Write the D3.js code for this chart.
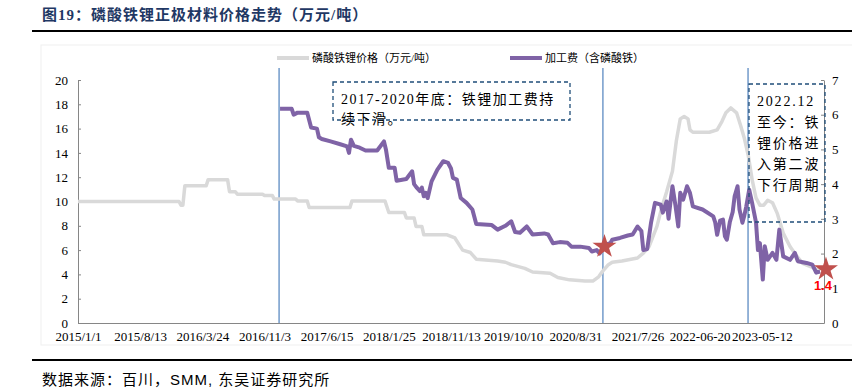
<!DOCTYPE html>
<html>
<head>
<meta charset="utf-8">
<script src="https://cdn.jsdelivr.net/npm/d3@7"></script>
<style>
  body { margin: 0; background: #fff; }
  .axis text { font-family: "Liberation Serif", serif; font-size: 13px; fill: #000; }
  .axis path { stroke: #868686; }
  .axis line { stroke: #868686; }
  .cjk { font-family: "Liberation Serif", "Noto Sans CJK SC", sans-serif; }
</style>
</head>
<body>
<svg id="chart" width="852" height="392"></svg>
<script>
// category axis: one label every 32 categories
const tickLabels = ["2015/1/1", "2015/8/13", "2016/3/24", "2016/11/3", "2017/6/15", "2018/1/25",
  "2018/11/13", "2019/10/10", "2020/8/31", "2021/7/26", "2022-06-20", "2023-05-12"];
const tickEvery = 32;
const categoryCount = 384;

// 磷酸铁锂价格 (万元/吨), left axis: [category index, value]
const priceSeries = [
  [0, 10.0], [52, 10.0], [53, 9.7], [54, 9.7], [55, 11.3], [66, 11.3], [67, 11.8], [77, 11.8],
  [78, 10.8], [81, 10.8], [82, 10.6], [95, 10.6], [96, 10.5], [100, 10.5], [101, 10.2], [112, 10.2],
  [113, 10.05], [118, 10.05], [119, 9.5], [140, 9.5], [141, 10.05], [158, 10.05], [160, 9.1],
  [168, 9.1], [169, 8.65], [173, 8.65], [174, 7.95], [177, 7.95], [178, 7.26], [190, 7.26],
  [194, 7.0], [198, 6.0], [202, 5.8], [205, 5.25], [216, 5.1], [220, 5.0], [223, 4.8], [230, 4.5],
  [234, 4.2], [243, 4.1], [247, 3.75], [253, 3.55], [261, 3.45], [265, 3.45], [268, 3.8],
  [270, 4.25], [273, 4.8], [275, 5.0], [280, 5.1], [288, 5.35], [291, 5.75], [294, 6.3],
  [298, 7.95], [300.5, 9.5], [303, 10.8], [306, 12.5], [308, 15.0], [310, 16.8], [312, 17.0],
  [314, 16.8], [315, 15.9], [316.5, 15.7], [325, 15.7], [329, 15.9], [331.5, 16.6], [333.5, 17.3],
  [336, 17.7], [339, 17.3], [341, 16.3], [343, 15.2], [345, 13.8], [347, 11.8], [349, 10.3],
  [351, 9.7], [353, 9.7], [355, 10.1], [357.5, 9.9], [360, 9.0], [363, 7.4], [366.5, 6.3],
  [370, 5.5], [373, 4.9], [377, 4.65], [380, 4.4], [382, 4.3]
];

// 加工费 (含磷酸铁), right axis: [category index, value]
const feeSeries = [
  [104, 6.17], [110, 6.17], [111, 6.0], [113, 6.06], [118, 6.06], [120, 5.63], [123, 5.6],
  [124, 5.35], [125.5, 5.3], [130, 5.23], [135, 5.15], [138.5, 5.09], [139.5, 4.9], [140.5, 5.28],
  [142, 5.1], [145, 5.05], [148, 4.97], [154, 4.97], [157.5, 5.23], [158.5, 5.0], [160, 4.47],
  [163, 4.47], [164, 4.1], [169, 4.15], [172, 4.37], [173, 4.0], [174.5, 3.89], [176, 3.8],
  [177, 3.9], [178, 3.65], [179, 3.75], [180, 3.6], [182, 4.08], [185, 4.42], [188, 4.66],
  [190.5, 4.61], [192, 4.45], [193, 4.18], [195, 4.13], [197, 3.6], [200, 3.46], [203, 3.27],
  [205, 2.85], [213, 2.82], [216, 2.69], [220, 2.8], [223, 2.93], [225, 2.62], [227.5, 2.6],
  [231, 2.78], [234, 2.55], [240, 2.58], [242, 2.55], [244.5, 2.3], [248, 2.33], [252, 2.31],
  [254, 2.2], [258.5, 2.2], [263, 2.16], [264.5, 2.06], [267, 2.1], [268.5, 2.0], [271, 2.25],
  [274, 2.3], [275, 2.4], [279, 2.45], [283, 2.52], [285.5, 2.55], [288, 2.78], [290, 2.65],
  [291, 2.1], [293, 2.13], [295, 2.9], [297, 3.46], [300, 3.41], [301, 3.18], [303, 3.5],
  [304, 3.0], [305, 3.5], [306, 3.94], [307.5, 3.4], [309, 2.78], [310, 3.75], [311.5, 3.55],
  [313.5, 3.94], [315, 3.75], [316.5, 3.36], [321.5, 3.27], [327, 3.07], [328, 2.9], [329, 2.54],
  [330.5, 2.95], [332, 2.98], [333, 2.5], [334, 2.4], [335.5, 2.9], [337, 3.2], [338, 3.65],
  [339.5, 3.94], [340.5, 3.27], [342, 2.89], [343, 3.1], [344, 3.36], [345.5, 3.84], [347, 3.46],
  [349, 2.9], [350, 2.1], [351, 2.3], [352.5, 1.25], [353.5, 2.21], [355, 1.82], [357.5, 2.02],
  [359.5, 1.82], [361, 2.69], [363, 1.92], [366.5, 1.82], [369, 2.02], [370.5, 1.78], [375, 1.73],
  [378, 1.68], [380, 1.45], [382, 1.48]
];

const markerLines = [103.5, 270.2, 344.9];
const starPoints = [[271, 2.2], [385, 1.55]];
const lastLabel = "1.4";

const svg = d3.select("#chart");

const x = d3.scaleLinear().domain([0, categoryCount]).range([78, 824]);
const yLeft = d3.scaleLinear().domain([0, 20]).range([323, 80]);
const yRight = d3.scaleLinear().domain([0, 7]).range([323, 80]);

// title and rules
svg.append("text")
  .attr("class", "cjk")
  .attr("x", 42).attr("y", 20)
  .attr("font-size", 15).attr("font-weight", "bold")
  .attr("letter-spacing", 1)
  .attr("fill", "#1f3864")
  .text("图19：磷酸铁锂正极材料价格走势（万元/吨）");

svg.append("line").attr("x1", 32).attr("x2", 852).attr("y1", 31).attr("y2", 31)
  .attr("stroke", "#000").attr("stroke-width", 2);
svg.append("line").attr("x1", 32).attr("x2", 852).attr("y1", 360).attr("y2", 360)
  .attr("stroke", "#000").attr("stroke-width", 2);

const source = svg.append("text")
  .attr("class", "cjk")
  .attr("x", 42).attr("y", 385)
  .attr("font-size", 15)
  .attr("letter-spacing", 1);
source.append("tspan").text("数据来源：百川，");
source.append("tspan").attr("font-family", "Liberation Sans, Arial").text("SMM, ");
source.append("tspan").text("东吴证券研究所");

// faint chart-area border
svg.append("rect")
  .attr("x", 41).attr("y", 45).attr("width", 830).attr("height", 300)
  .attr("fill", "none").attr("stroke", "#efefef");

// legend
const legend = [
  { label: "磷酸铁锂价格（万元/吨）", color: "#d9d9d9", x: 277 },
  { label: "加工费（含磷酸铁）", color: "#7f63a6", x: 510 }
];
legend.forEach(l => {
  svg.append("line").attr("x1", l.x).attr("x2", l.x + 32).attr("y1", 58).attr("y2", 58)
    .attr("stroke", l.color).attr("stroke-width", 4);
  svg.append("text").attr("class", "cjk")
    .attr("x", l.x + 35).attr("y", 62).attr("font-size", 11).text(l.label);
});

// axes
svg.append("g").attr("class", "axis")
  .attr("transform", "translate(78,0)")
  .call(d3.axisLeft(yLeft).tickValues(d3.range(0, 21, 2)).tickFormat(d3.format("d"))
    .tickSizeInner(-3).tickSizeOuter(0).tickPadding(10));

svg.append("g").attr("class", "axis")
  .attr("transform", "translate(824,0)")
  .call(d3.axisRight(yRight).tickValues(d3.range(0, 8, 1)).tickFormat(d3.format("d"))
    .tickSizeInner(-3).tickSizeOuter(0).tickPadding(8));

svg.append("g").attr("class", "axis")
  .attr("transform", "translate(0,323)")
  .call(d3.axisBottom(x)
    .tickValues(tickLabels.map((_, i) => i * tickEvery))
    .tickFormat((_, i) => tickLabels[i])
    .tickSize(0).tickPadding(9));

// vertical marker lines
svg.append("g").selectAll("line")
  .data(markerLines)
  .join("line")
  .attr("x1", d => x(d)).attr("x2", d => x(d))
  .attr("y1", 68).attr("y2", 323)
  .attr("stroke", "#4f81bd").attr("stroke-width", 1.2);

// series
const priceLine = d3.line().x(d => x(d[0])).y(d => yLeft(d[1]));
const feeLine = d3.line().x(d => x(d[0])).y(d => yRight(d[1]));

svg.append("path").datum(priceSeries)
  .attr("d", priceLine)
  .attr("fill", "none").attr("stroke", "#d9d9d9").attr("stroke-width", 3.5)
  .attr("stroke-linejoin", "round");

svg.append("path").datum(feeSeries)
  .attr("d", feeLine)
  .attr("fill", "none").attr("stroke", "#7f63a6").attr("stroke-width", 4)
  .attr("stroke-linejoin", "round");

// stars
svg.append("g").selectAll("path")
  .data(starPoints)
  .join("path")
  .attr("transform", d => `translate(${x(d[0])},${yRight(d[1])})`)
  .attr("d", d3.symbol(d3.symbolStar, 180))
  .attr("fill", "#c0504d");

const last = starPoints[starPoints.length - 1];
svg.append("text")
  .attr("x", x(last[0]) - 3).attr("y", 290)
  .attr("text-anchor", "middle")
  .attr("font-family", "Liberation Sans, Arial").attr("font-weight", "bold")
  .attr("font-size", 13).attr("fill", "#ff0000")
  .text(lastLabel);

// annotation boxes
const boxStyle = sel => sel.attr("fill", "none").attr("stroke", "#1f4e79")
  .attr("stroke-width", 1.3).attr("stroke-dasharray", "4,3");

svg.append("rect").attr("x", 333).attr("y", 82).attr("width", 237).attr("height", 38).call(boxStyle);
const note1 = ["2017-2020年底：铁锂加工费持", "续下滑。"];
note1.forEach((t, i) => {
  svg.append("text").attr("class", "cjk")
    .attr("x", 341).attr("y", 104 + i * 20)
    .attr("font-size", 14).attr("letter-spacing", 1.5)
    .text(t);
});

svg.append("rect").attr("x", 749).attr("y", 84).attr("width", 76).attr("height", 138).call(boxStyle);
const note2 = ["2022.12", "至今：铁", "锂价格进", "入第二波", "下行周期"];
note2.forEach((t, i) => {
  svg.append("text").attr("class", "cjk")
    .attr("x", 757).attr("y", 106 + i * 21)
    .attr("font-size", 14).attr("letter-spacing", 1.8)
    .text(t);
});
</script>
</body>
</html>
